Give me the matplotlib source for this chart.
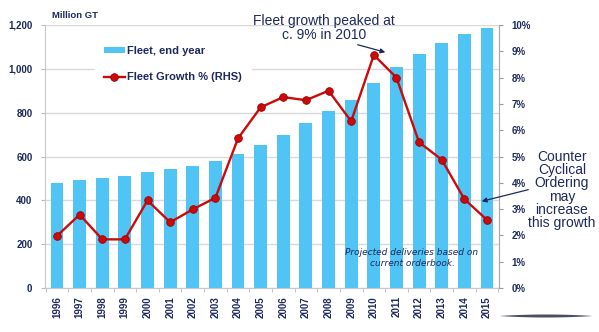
import matplotlib
matplotlib.use("Agg")
import matplotlib.pyplot as plt
import numpy as np

years = ["1996", "1997", "1998", "1999", "2000", "2001", "2002", "2003", "2004", "2005",
         "2006", "2007", "2008", "2009", "2010", "2011", "2012", "2013", "2014", "2015"]
fleet = [480, 493, 502, 511, 529, 541, 558, 578, 610, 652,
         700, 751, 807, 859, 935, 1010, 1066, 1119, 1158, 1186]
growth = [1.98, 2.79, 1.85, 1.85, 3.33, 2.50, 2.99, 3.43, 5.69, 6.87,
          7.26, 7.14, 7.50, 6.34, 8.86, 8.00, 5.54, 4.88, 3.38, 2.59]
left_ticks = [0, 200, 400, 600, 800, 1000, 1200]
right_ticks = [0, 1, 2, 3, 4, 5, 6, 7, 8, 9, 10]

plt.rcParams["font.family"] = ["Liberation Sans", "DejaVu Sans"]

NAVY = "#1c2a5e"
BLUE = "#4fc4f5"
RED = "#cc0a0a"
GRID = "#d9d9d9"

fig = plt.figure(figsize=(5.99, 3.32), dpi=100)
ax = fig.add_axes([0.0751, 0.1325, 0.7579, 0.7922])
x = np.arange(len(years))
ax.bar(x, fleet, width=0.57, color=BLUE, zorder=2, label="Fleet, end year")
ax.set_xlim(-0.53, len(years) - 0.47)
ax.set_ylim(0, 1200)
ax.set_yticks(left_ticks)
ax.set_yticklabels([f"{v:,}" for v in left_ticks])
ax.yaxis.grid(True, color=GRID, lw=1.0, zorder=0)
ax.set_axisbelow(True)
ax.set_xticks(x)
ax.set_xticklabels(years, rotation=90)
ax.set_xticks(np.arange(-0.5, len(years)), minor=True)
ax.tick_params(axis="x", which="major", length=0, pad=6)
ax.tick_params(axis="x", which="minor", length=3, color="#bbbbbb")
ax.tick_params(axis="y", length=3, color="#bbbbbb", pad=6)
for lab in ax.get_xticklabels() + ax.get_yticklabels():
    lab.set_fontweight("bold")
    lab.set_color(NAVY)
    lab.set_fontsize(7)
ax.spines["top"].set_visible(False)
for s in ["left", "bottom", "right"]:
    ax.spines[s].set_color("#c8c8c8")

ax2 = ax.twinx()
ax2.plot(x, growth, color=RED, lw=1.7, marker="o", ms=5.5, mfc=RED, mec="#9a0000",
         mew=0.6, zorder=5, label="Fleet Growth % (RHS)")
ax2.set_ylim(0, 10)
ax2.set_yticks(right_ticks)
ax2.set_yticklabels([f"{v}%" for v in right_ticks])
ax2.tick_params(axis="y", length=3, color="#999999", pad=6)
for lab in ax2.get_yticklabels():
    lab.set_fontweight("bold")
    lab.set_color(NAVY)
    lab.set_fontsize(7)
ax2.spines["top"].set_visible(False)
ax2.spines["right"].set_color("#aaaaaa")
ax2.spines["left"].set_visible(False)
ax2.spines["bottom"].set_visible(False)

h1, l1 = ax.get_legend_handles_labels()
h2, l2 = ax2.get_legend_handles_labels()
leg = ax2.legend(h1 + h2, l1 + l2, loc="upper left", bbox_to_anchor=(0.11, 0.955),
                 frameon=True, framealpha=1, edgecolor="white", facecolor="white",
                 fontsize=8, handlelength=1.9, handleheight=0.45, labelspacing=1.5,
                 borderpad=0.8, handletextpad=0.2, borderaxespad=0)
for t in leg.get_texts():
    t.set_fontweight("bold")
    t.set_color(NAVY)

fig.text(52 / 599, 1 - 15 / 332, "Million GT", fontsize=6.8, fontweight="bold",
         color=NAVY, va="center", ha="left")

fig.text(324 / 599, 1 - 28 / 332, "Fleet growth peaked at\nc. 9% in 2010", fontsize=10,
         color=NAVY, ha="center", va="center", linespacing=1.0)
fig.add_artist(matplotlib.patches.FancyArrowPatch(
    (355 / 599, 1 - 44 / 332), (388 / 599, 1 - 53 / 332), transform=fig.transFigure,
    arrowstyle="-|>", mutation_scale=7, color=NAVY, lw=0.9))

fig.text(562 / 599, 1 - 190 / 332, "Counter\nCyclical\nOrdering\nmay\nincrease\nthis growth",
         fontsize=10, color=NAVY, ha="center", va="center", linespacing=0.92)
fig.add_artist(matplotlib.patches.FancyArrowPatch(
    (531 / 599, 1 - 189 / 332), (479 / 599, 1 - 202 / 332), transform=fig.transFigure,
    arrowstyle="-|>", mutation_scale=7, color=NAVY, lw=0.9))

fig.text(412 / 599, 1 - 258 / 332, "Projected deliveries based on\ncurrent orderbook.",
         fontsize=6.5, color=NAVY, style="italic", ha="center", va="center",
         linespacing=1.2, family=["DejaVu Sans"])

# decorative swoosh at bottom right of the slide
sx = np.linspace(500, 592, 60)
half = 1.5 * np.sin(np.pi * (sx - 500) / 92) ** 0.8
poly = np.column_stack([np.concatenate([sx, sx[::-1]]),
                        np.concatenate([316 - half, (316 + half)[::-1]])])
poly[:, 0] /= 599
poly[:, 1] = 1 - poly[:, 1] / 332
fig.add_artist(matplotlib.patches.Polygon(poly, closed=True, transform=fig.transFigure,
                                          color="#2a2f45", lw=0, alpha=0.85))

fig.savefig("out.png", dpi=100)
